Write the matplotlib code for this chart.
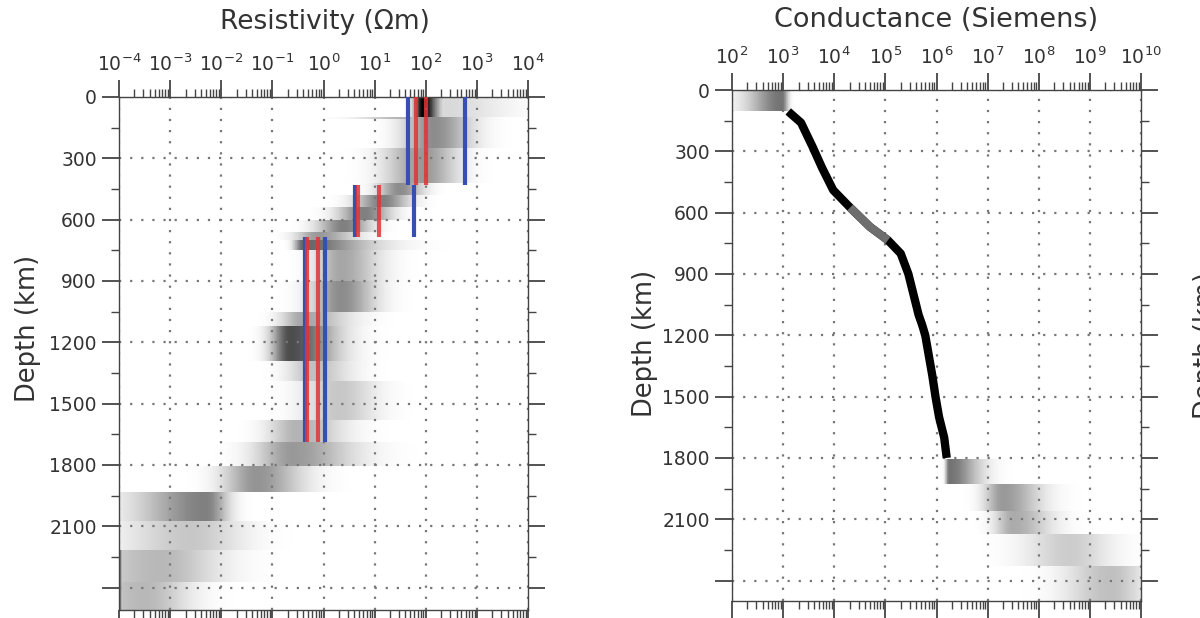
import numpy as np
import matplotlib
matplotlib.use('Agg')
import matplotlib.pyplot as plt
from matplotlib.colors import LinearSegmentedColormap
from matplotlib.ticker import LogLocator, MultipleLocator, FuncFormatter

plt.rcParams['font.family'] = ['DejaVu Sans']
plt.rcParams['mathtext.fontset'] = 'dejavusans'

# resistivity probability bands: depth range (km), log10 centre (Ohm m),
# spread to the left / right (decades) and darkness 0..1
res_top = [0, 0, 96, 100, 250, 420, 480, 540, 600, 660, 700, 750, 900, 1050,
           1120, 1290, 1390, 1580, 1690, 1805, 1935, 2075, 2215, 2375, 2215]
res_bot = [100, 100, 106, 250, 420, 480, 540, 600, 660, 700, 750, 900, 1050,
           1120, 1290, 1390, 1580, 1690, 1805, 1935, 2075, 2215, 2375, 2510, 2510]
res_centre = [1.95, 2.4, 1.6, 2.15, 1.95, 1.5, 1.15, 0.8, 0.4, -0.1, -0.4,
              0.35, 0.35, -0.4, -0.65, -0.2, 0.3, -0.5, -0.6, -1.3, -2.3,
              -2.6, -3.2, -3.5, -4.0]
res_sl = [0.12, 0.3, 0.6, 0.4, 0.5, 0.3, 0.35, 0.35, 0.35, 0.3, 0.12, 0.35,
          0.4, 0.3, 0.25, 0.35, 0.5, 0.4, 0.5, 0.45, 0.9, 0.9, 1.0, 0.8, 0.03]
res_sr = [0.2, 0.8, 0.3, 0.5, 0.45, 0.3, 0.35, 0.35, 0.35, 0.5, 0.9, 0.5,
          0.45, 0.6, 0.6, 0.5, 0.5, 0.6, 0.8, 0.6, 0.3, 0.7, 0.8, 0.6, 0.03]
res_peak = [1.0, 0.15, 0.3, 0.45, 0.4, 0.45, 0.5, 0.5, 0.5, 0.4, 0.6,
            0.35, 0.45, 0.35, 0.7, 0.25, 0.22, 0.3, 0.4, 0.42, 0.5, 0.22,
            0.28, 0.28, 0.9]

# constant-resistivity layers and their bounds (Ohm m)
layer_top = [0, 430, 685]
layer_bot = [430, 685, 1690]
blue_lo = [45, 4.2, 0.44]
blue_hi = [590, 60, 1.07]
red_lo = [65, 4.8, 0.48]
red_hi = [100, 12, 0.78]

# conductance: most probable track (log10 S) and the scattered deep part
track_depth = [105, 160, 280, 380, 490, 575, 670, 735, 800, 900, 1000, 1100,
               1150, 1200, 1300, 1400, 1500, 1600, 1700, 1800]
track_log10 = [3.1, 3.35, 3.58, 3.76, 3.98, 4.31, 4.70, 5.05, 5.3, 5.45, 5.55,
               5.65, 5.72, 5.78, 5.85, 5.92, 5.98, 6.05, 6.15, 6.2]
con_top = [0, 1805, 1930, 2060, 2170, 2330]
con_bot = [105, 1930, 2060, 2170, 2330, 2500]
con_centre = [2.98, 6.25, 7.3, 7.5, 8.6, 9.4]
con_sl = [0.45, 0.05, 0.25, 0.25, 0.6, 0.6]
con_sr = [0.08, 0.4, 0.5, 0.5, 0.55, 0.45]
con_peak = [0.55, 0.55, 0.4, 0.33, 0.2, 0.25]

ink = '#333333'
wk = LinearSegmentedColormap.from_list('wk', ['white', 'black'])


def density(tops, bots, cents, sl, sr, peaks, lo, hi, zmax):
    lx = np.linspace(lo, hi, 641)
    dz = np.arange(0, zmax + 2, 2.0)
    xc = (lx[:-1] + lx[1:]) / 2
    zc = (dz[:-1] + dz[1:]) / 2
    img = np.zeros((len(zc), len(xc)))
    for t, b, c, s1, s2, p in zip(tops, bots, cents, sl, sr, peaks):
        rows = (zc >= t) & (zc < b)
        s = np.where(xc < c, s1, s2)
        prof = p * np.exp(-0.5 * ((xc - c) / s) ** 2)
        img[rows] = np.maximum(img[rows], prof)
    return 10 ** lx, dz, img


def style_axes(ax, xlo, xhi, zmax):
    ax.set_xscale('log')
    ax.set_xlim(xlo, xhi)
    ax.set_ylim(zmax, 0)
    ax.xaxis.set_major_locator(LogLocator(base=10, numticks=20))
    ax.xaxis.set_minor_locator(LogLocator(base=10, subs=np.arange(2, 10), numticks=20))
    ax.yaxis.set_major_locator(MultipleLocator(300))
    ax.yaxis.set_minor_locator(MultipleLocator(150))
    ax.yaxis.set_major_formatter(FuncFormatter(lambda v, p: '' if v > 2200 else f'{v:.0f}'))
    ax.tick_params(axis='x', which='both', top=True, bottom=True,
                   labeltop=True, labelbottom=False, direction='out')
    ax.tick_params(axis='y', which='both', left=True, right=True, direction='out')
    ax.tick_params(which='major', length=12, width=1.3, color='#444444',
                   labelsize=13.5, labelcolor=ink, pad=4)
    ax.tick_params(which='minor', length=6, width=1, color='#444444')
    ax.grid(True, which='major', linestyle=(0, (1, 4)), color='#777777', lw=1.6)
    for s in ax.spines.values():
        s.set_color('#444444')
        s.set_linewidth(1)


fig = plt.figure(figsize=(12, 6.18), dpi=100)

ax1 = fig.add_axes([119 / 1200, 8 / 618, 409 / 1200, 513 / 618])
xe, ze, img = density(res_top, res_bot, res_centre, res_sl, res_sr, res_peak, -4, 4, 2510)
ax1.pcolormesh(xe, ze, img, cmap=wk, vmin=0, vmax=1, shading='flat', rasterized=True)
for t, b, bl, bh, rl, rh in zip(layer_top, layer_bot, blue_lo, blue_hi, red_lo, red_hi):
    ax1.vlines([bl, bh], t, b, color='#3550b0', lw=3, zorder=3)
    ax1.vlines([rl, rh], t, b, color='#e03535', lw=3, alpha=0.85, zorder=4)
style_axes(ax1, 1e-4, 1e4, 2510)

ax2 = fig.add_axes([732 / 1200, 17 / 618, 409 / 1200, 511 / 618])
xe, ze, img = density(con_top, con_bot, con_centre, con_sl, con_sr, con_peak, 2, 10, 2500)
ax2.pcolormesh(xe, ze, img, cmap=wk, vmin=0, vmax=1, shading='flat', rasterized=True)
track_s = 10 ** np.array(track_log10)
ax2.plot(track_s, track_depth, color='black', lw=6, solid_capstyle='butt', zorder=3)
ax2.plot(track_s[5:8], track_depth[5:8], color='#6e6e6e', lw=6,
         solid_capstyle='butt', zorder=3)
style_axes(ax2, 1e2, 1e10, 2500)

fig.text(325 / 1200, 1 - 22 / 618, 'Resistivity (\u03a9m)', ha='center', va='center',
         fontsize=19, color=ink)
fig.text(936 / 1200, 1 - 20 / 618, 'Conductance (Siemens)', ha='center', va='center',
         fontsize=19.5, color=ink)
fig.text(28 / 1200, 1 - 328 / 618, 'Depth (km)', rotation=90, ha='center', va='center',
         fontsize=18.5, color=ink)
fig.text(645 / 1200, 1 - 343 / 618, 'Depth (km)', rotation=90, ha='center', va='center',
         fontsize=18.5, color=ink)
# label of a third panel that lies beyond the right edge of the picture
fig.text(1193 / 1200, 1 - 345 / 618, 'Depth (km)', rotation=90, ha='left', va='center',
         fontsize=18.5, color=ink)

fig.savefig('out.png', dpi=100)
